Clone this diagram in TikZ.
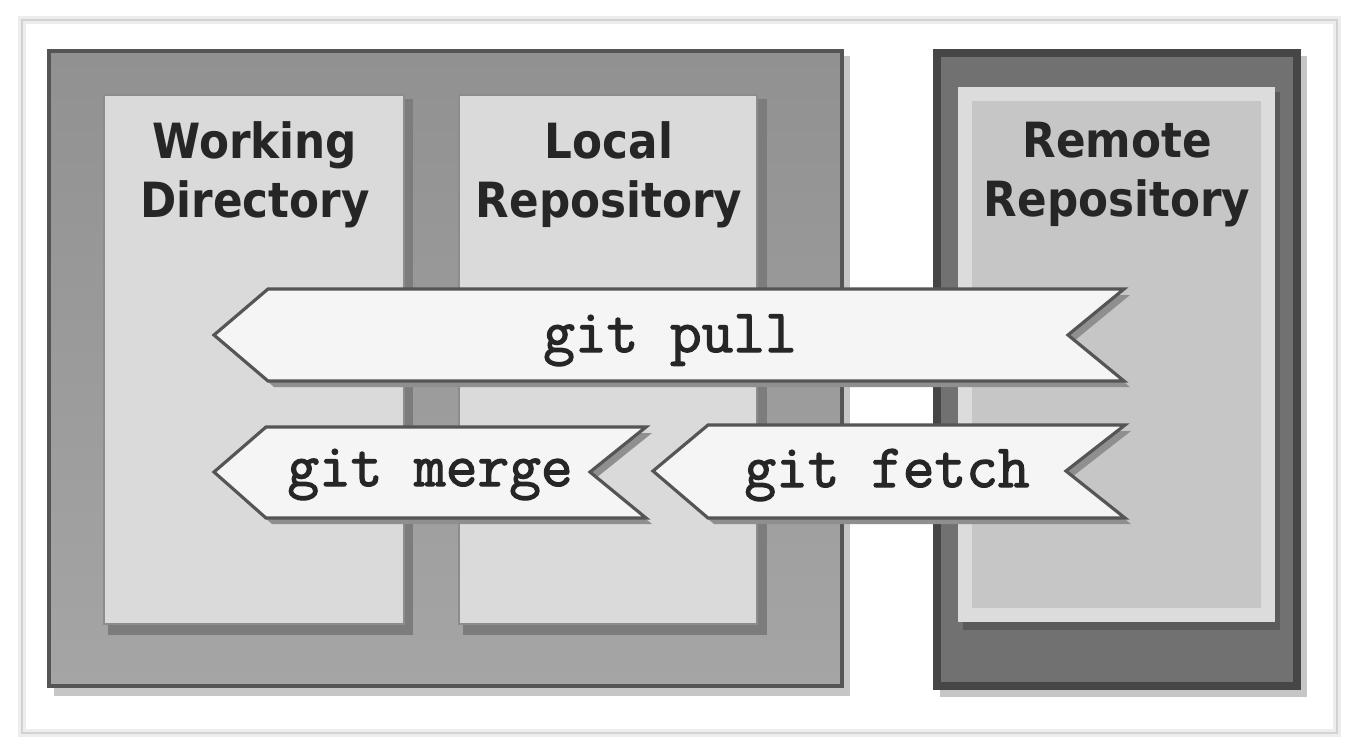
\documentclass[tikz,border=0pt]{standalone}
\usepackage{fontspec}
\newfontfamily\boxfont{DejaVu Sans Condensed}
\newfontfamily\cmdfont{Latin Modern Mono}[FakeBold=2]
\usepackage{tikz}
\definecolor{framegray}{HTML}{D2D2D2}
\definecolor{boxedge}{HTML}{555555}
\definecolor{boxtop}{HTML}{919191}
\definecolor{boxbottom}{HTML}{A5A5A5}
\definecolor{boxshadow}{HTML}{C6C6C6}
\definecolor{panefill}{HTML}{DADADA}
\definecolor{paneedge}{HTML}{8C8C8C}
\definecolor{paneshadow}{HTML}{7C7C7C}
\definecolor{remotefill}{HTML}{717171}
\definecolor{remoteedge}{HTML}{464646}
\definecolor{remoterim}{HTML}{DCDCDC}
\definecolor{remoteinner}{HTML}{C6C6C6}
\definecolor{remoteshadow}{HTML}{5A5A5A}
\definecolor{arrowfill}{HTML}{F5F5F5}
\definecolor{arrowedge}{HTML}{555555}
\definecolor{arrowshadow}{HTML}{8F8F8F}

\tikzset{
  pane/.style={fill=panefill, draw=paneedge, line width=0.5pt},
  gitarrow/.style={fill=arrowfill, draw=arrowedge, line width=0.9pt, line join=miter},
  boxtitle/.style={font=\boxfont\bfseries\fontsize{13.8}{16.8}\selectfont, text=black!85, align=center, anchor=north, inner sep=0pt},
  cmdlabel/.style={font=\cmdfont\fontsize{17.5}{20}\selectfont, text=black!85, anchor=base, inner sep=0pt},
}

\begin{document}
\begin{tikzpicture}[x=0.01cm, y=-0.01cm]
\useasboundingbox (0,0) rectangle (1358,754);
\fill[white] (0,0) rectangle (1358,754);
\draw[black!7, line width=2.5pt] (22,20) rectangle (1337,733);
\draw[framegray, line width=0.6pt] (22,20) rectangle (1337,733);

\fill[boxshadow] (54,56) rectangle (850,696);
\shadedraw[top color=boxtop, bottom color=boxbottom, draw=boxedge, line width=1.3pt] (49,51) rectangle (842,686);
\fill[paneshadow] (108,99) rectangle (413,635);
\draw[pane] (104,95) rectangle (404,624);
\fill[paneshadow] (463,99) rectangle (767,635);
\draw[pane] (459,95) rectangle (757,624);

\fill[boxshadow] (940,56) rectangle (1307,697);
\draw[fill=remotefill, draw=remoteedge, line width=2.2pt] (937,53) rectangle (1297,686);
\fill[remoteshadow] (963,92) rectangle (1280,630);
\draw[fill=remoteinner, draw=remoterim, line width=4pt] (965,94) rectangle (1268,615);

\node[boxtitle] (workdir) at (255,121) {Working\\Directory};
\node[boxtitle] (localrepo) at (609,121) {Local\\Repository};
\node[boxtitle] (remoterepo) at (1117,121) {Remote\\Repository};

\fill[arrowshadow, shift={(6,6)}] (214,335) -- (268,289) -- (1124,289) -- (1068,335) -- (1124,381) -- (268,381) -- cycle;
\draw[gitarrow] (214,335) -- (268,289) -- (1124,289) -- (1068,335) -- (1124,381) -- (268,381) -- cycle;
\fill[arrowshadow, shift={(6,6)}] (214,472) -- (266,427) -- (646,427) -- (590,472) -- (646,518) -- (266,518) -- cycle;
\draw[gitarrow] (214,472) -- (266,427) -- (646,427) -- (590,472) -- (646,518) -- (266,518) -- cycle;
\fill[arrowshadow, shift={(6,6)}] (653,471) -- (708,425) -- (1125,425) -- (1066,471) -- (1125,518) -- (708,518) -- cycle;
\draw[gitarrow] (653,471) -- (708,425) -- (1125,425) -- (1066,471) -- (1125,518) -- (708,518) -- cycle;

\node[cmdlabel] (pull) at (670,352) {git pull};
\node[cmdlabel] (merge) at (430,486) {git merge};
\node[cmdlabel] (fetch) at (887,487) {git fetch};

\end{tikzpicture}
\end{document}
